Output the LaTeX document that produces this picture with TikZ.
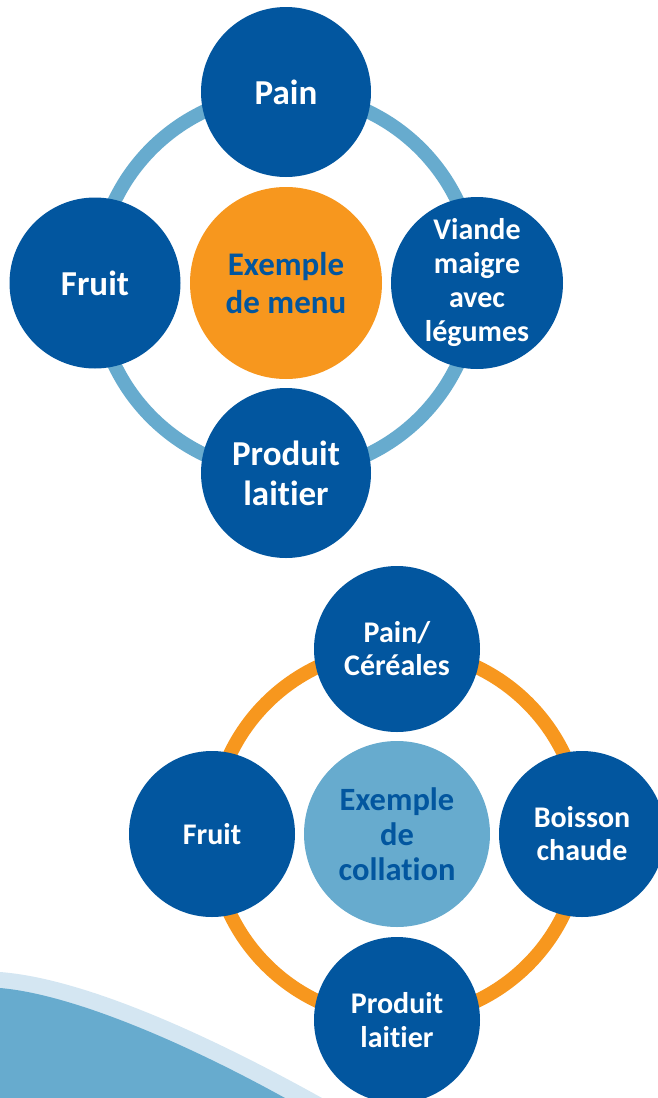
\documentclass[tikz,border=0pt]{standalone}
\usepackage{fontspec}
\setmainfont{Carlito}[Ligatures={NoCommon}]
\definecolor{dblue}{HTML}{02569F}
\definecolor{orng}{HTML}{F7971E}
\definecolor{lblue}{HTML}{67ABCE}
\definecolor{pblue}{HTML}{D4E6F2}
\tikzset{
  ring/.style={line width=14pt},
  bubble/.style={circle, fill=dblue, text=white, inner sep=0pt, align=center},
  hub/.style={circle, inner sep=0pt, align=center, text=dblue},
}
\newcommand{\fs}[2]{\fontsize{#1}{#2}\selectfont\bfseries}
\begin{document}
\begin{tikzpicture}[x=1pt,y=-1pt]
\useasboundingbox (0,0) rectangle (658,1098);
% wave
\fill[pblue] (0,972) .. controls (80,978) and (200,1030) .. (322,1098) -- (0,1098) -- cycle;
\fill[lblue] (0,988) .. controls (70,994) and (180,1040) .. (285,1098) -- (0,1098) -- cycle;
% top diagram
\coordinate (c1) at (286,283);
\draw[ring, lblue] (c1) circle[radius=190];
\node[hub, fill=orng, minimum size=192pt, font=\fs{33}{38}] (menu) at (c1) {Exemple\\de menu};
\node[bubble, minimum size=170pt, font=\fs{35}{40}] (pain) at (286,92) {Pain};
\node[bubble, minimum size=171pt, font=\fs{35}{40}] (fruit) at (95,283) {Fruit};
\node[bubble, minimum size=172pt, font=\fs{30}{34}] (viande) at (477,283) {Viande\\maigre\\avec\\légumes};
\node[bubble, minimum size=170pt, font=\fs{35}{40}] (lait) at (286,473) {Produit\\laitier};
% bottom diagram
\coordinate (c2) at (397,834);
\draw[ring, orng] (c2) circle[radius=185];
\node[hub, fill=lblue, minimum size=186pt, font=\fs{32.5}{35}] (coll) at (c2) {Exemple\\de\\collation};
\node[bubble, minimum size=166pt, font=\fs{30}{33}] (cereal) at (397,649) {Pain/\\Céréales};
\node[bubble, minimum size=166pt, font=\fs{30}{33}] (fruitb) at (212,834) {Fruit};
\node[bubble, minimum size=166pt, font=\fs{30}{33}] (boisson) at (582,834) {Boisson\\chaude};
\node[bubble, minimum size=166pt, font=\fs{30}{34.5}] (laitb) at (397,1020) {Produit\\laitier};
\end{tikzpicture}
\end{document}
